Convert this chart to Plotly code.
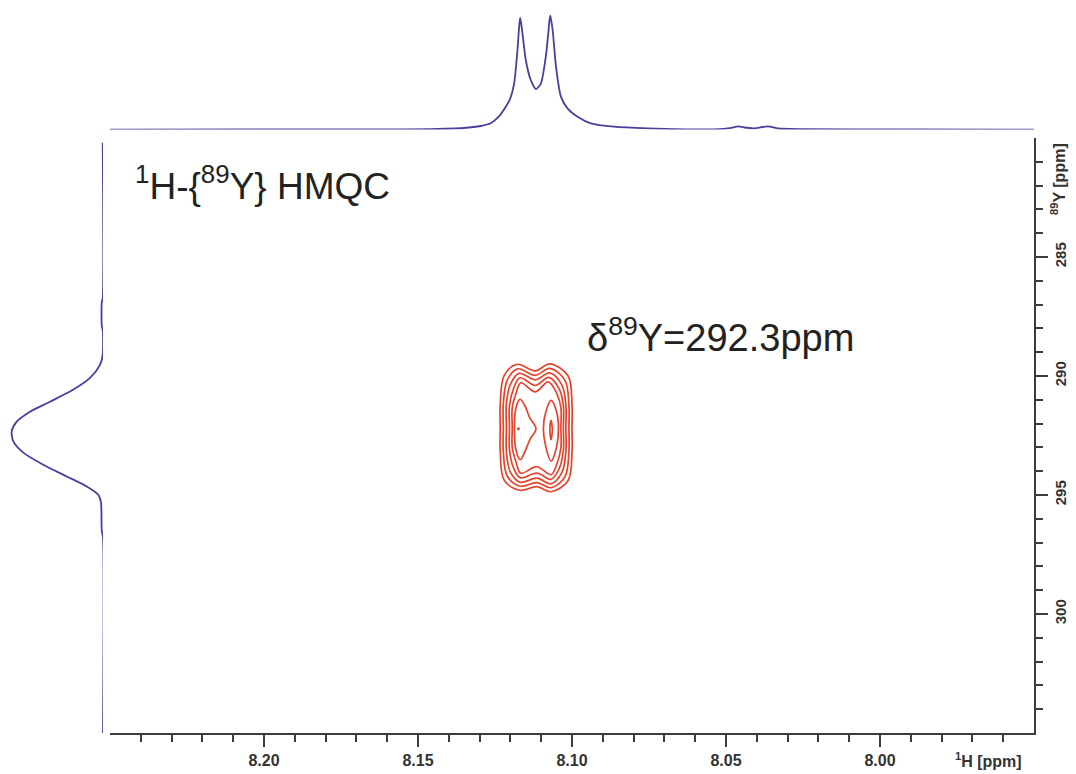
import plotly.graph_objects as go

# ---------------- data ----------------
# 1H projection (top trace): chemical shift (ppm) and intensity (a.u.)
proj_h_ppm = [8.2500, 8.1882, 8.1622, 8.1459, 8.1352, 8.1296, 8.1264, 8.1238, 8.1215, 8.1202,
              8.1188, 8.11770, 8.11721, 8.11685, 8.11649, 8.11607, 8.1150, 8.1134, 8.1117, 8.1101,
              8.1085, 8.10759, 8.10736, 8.10706, 8.10674, 8.10628, 8.1052, 8.1036, 8.1014, 8.0982,
              8.0939, 8.0864, 8.0754, 8.0538, 8.0483, 8.0461, 8.0441, 8.0408, 8.0364, 8.0331,
              8.0255, 7.9930, 7.9500]
proj_h_int = [0, 0.1, 0.2, 0.5, 1.6, 3.6, 6.3, 12.9, 22.9, 30,
              46, 79.6, 101, 112, 106, 96, 69.6, 49.6, 40.5, 46,
              73, 100, 108, 114, 109, 99.6, 63, 33, 21, 12.9,
              6.3, 2.9, 1.3, 0.3, 1.7, 3.3, 2.1, 1.3, 3.3, 1.1,
              0.4, 0.1, 0]

# 89Y projection (left trace)
proj_y_ppm = [280.2, 286.75, 286.9, 287.9, 288.05, 289.11, 289.53, 290.08, 290.58, 291.08,
              291.50, 291.92, 292.33, 292.75, 293.22, 293.73, 294.22, 294.64, 294.99, 295.32,
              296.46, 296.8, 305.05]
proj_y_int = [0.3, 0.3, 1.2, 1.2, 0.3, 0.3, 3.0, 13, 30, 53,
              73, 86.3, 91.3, 89.7, 79.7, 59.7, 36.3, 16.3, 4.7, 2.0,
              1.3, 0, 0]

# 2D cross-peak contour levels (1H ppm, 89Y ppm), outer to inner
c1_h = [8.1179, 8.1119, 8.1072, 8.1013, 8.1000, 8.1000, 8.1000, 8.1013, 8.1068, 8.1114, 8.1169, 8.1220, 8.1233, 8.1233, 8.1233, 8.1220]
c1_y = [289.509, 289.782, 289.488, 289.992, 291.209, 292.175, 293.182, 294.400, 294.862, 294.652, 294.799, 294.379, 293.182, 292.175, 291.167, 289.971]
c2_h = [8.1176, 8.1119, 8.1072, 8.1023, 8.1010, 8.1010, 8.1010, 8.1023, 8.1068, 8.1114, 8.1169, 8.1210, 8.1223, 8.1223, 8.1223, 8.1210]
c2_y = [289.698, 289.971, 289.677, 290.181, 291.209, 292.175, 293.182, 294.232, 294.694, 294.484, 294.631, 294.211, 293.182, 292.175, 291.167, 290.160]
c3_h = [8.1172, 8.1119, 8.1073, 8.1033, 8.1020, 8.1020, 8.1020, 8.1033, 8.1068, 8.1114, 8.1169, 8.1200, 8.1213, 8.1213, 8.1213, 8.1200]
c3_y = [289.887, 290.160, 289.866, 290.370, 291.209, 292.175, 293.182, 294.064, 294.526, 294.295, 294.463, 294.043, 293.182, 292.175, 291.167, 290.349]
c4_h = [8.1169, 8.1119, 8.1075, 8.1041, 8.1028, 8.1028, 8.1028, 8.1041, 8.1068, 8.1114, 8.1168, 8.1190, 8.1203, 8.1203, 8.1203, 8.1190]
c4_y = [290.076, 290.391, 290.055, 290.559, 291.251, 292.175, 293.098, 293.875, 294.337, 294.085, 294.274, 293.854, 293.098, 292.175, 291.251, 290.538]
c5_h = [8.1166, 8.1119, 8.1077, 8.1049, 8.1036, 8.1036, 8.1036, 8.1049, 8.1068, 8.1114, 8.1166, 8.1181, 8.1194, 8.1194, 8.1194, 8.1181]
c5_y = [290.286, 290.663, 290.244, 290.747, 291.335, 292.175, 293.014, 293.686, 294.148, 293.812, 294.085, 293.644, 293.014, 292.175, 291.335, 290.705]
lobe_l_h = [8.1169, 8.1153, 8.1137, 8.1117, 8.1137, 8.1153, 8.1168, 8.1182, 8.1187, 8.1182]
lobe_l_y = [290.978, 291.251, 291.755, 292.217, 292.679, 293.182, 293.518, 293.098, 292.217, 291.335]
lobe_r_h = [8.1068, 8.1050, 8.1044, 8.1050, 8.1068, 8.1085, 8.1093, 8.1085]
lobe_r_y = [291.020, 291.503, 292.217, 292.973, 293.581, 292.973, 292.217, 291.503]
core_r_h = [8.1068, 8.1064, 8.1068, 8.1072]
core_r_y = [291.860, 292.259, 292.679, 292.259]
core_l_h = [8.1174]
core_l_y = [292.217]

# axis ticks
x_major = [8.20, 8.15, 8.10, 8.05, 8.00]
x_labels = ["8.20", "8.15", "8.10", "8.05", "8.00"]
x_minor = [8.24, 8.23, 8.22, 8.21, 8.19, 8.18, 8.17, 8.16, 8.14, 8.13, 8.12, 8.11,
           8.09, 8.08, 8.07, 8.06, 8.04, 8.03, 8.02, 8.01, 7.99, 7.98, 7.97, 7.96]
y_major = [285, 290, 295, 300]
y_minor = [281, 282, 283, 284, 286, 287, 288, 289, 291, 292, 293, 294,
           296, 297, 298, 299, 301, 302, 303, 304]

# ---------------- figure ----------------
W, H = 1076, 774
ML, MR, MT, MB = 0, 42, 0, 41
PW, PH = W - ML - MR, H - MT - MB
x_dom = [110 / PW, 1.0]
main_top = (PH - 138) / PH
top_base = (PH - 129.6) / PH
left_w = 103 / PW

proj_col = "#4b3f9c"
cont_col = "#e4442c"
axis_col = "#3c3c3c"
font_fam = "Liberation Sans, Arial, sans-serif"

fig = go.Figure()

fig.add_trace(go.Scatter(x=proj_h_ppm, y=proj_h_int, xaxis="x2", yaxis="y2", mode="lines",
                         line=dict(color=proj_col, width=1.8, shape="spline", smoothing=0.6),
                         hoverinfo="skip"))
fig.add_trace(go.Scatter(x=proj_y_int, y=proj_y_ppm, xaxis="x3", yaxis="y3", mode="lines",
                         line=dict(color=proj_col, width=1.8, shape="spline", smoothing=0.7),
                         hoverinfo="skip"))

rings = [(c1_h, c1_y), (c2_h, c2_y), (c3_h, c3_y), (c4_h, c4_y), (c5_h, c5_y),
         (lobe_l_h, lobe_l_y), (lobe_r_h, lobe_r_y), (core_r_h, core_r_y)]
for rh, ry in rings:
    fig.add_trace(go.Scatter(x=rh + rh[:1], y=ry + ry[:1], mode="lines",
                             line=dict(color=cont_col, width=1.7, shape="spline", smoothing=1.0),
                             hoverinfo="skip"))
fig.add_trace(go.Scatter(x=core_l_h, y=core_l_y, mode="markers",
                         marker=dict(color=cont_col, size=3), hoverinfo="skip"))

tickfont_x = dict(family=font_fam, size=16, color="#333333", weight="bold")
tickfont_y = dict(family=font_fam, size=15, color="#333333", weight="bold")

fig.update_layout(
    width=W, height=H,
    margin=dict(l=ML, r=MR, t=MT, b=MB),
    paper_bgcolor="white", plot_bgcolor="white",
    showlegend=False,
    xaxis=dict(domain=x_dom, range=[8.25, 7.95], anchor="y",
               tickmode="array", tickvals=x_major, ticktext=x_labels,
               ticks="outside", ticklen=12, tickwidth=1.5, tickcolor=axis_col,
               minor=dict(tickmode="array", tickvals=x_minor, ticks="outside", ticklen=7,
                          tickwidth=1.5, tickcolor=axis_col, showgrid=False),
               showline=True, linecolor=axis_col, linewidth=1.5,
               showgrid=False, zeroline=False, tickfont=tickfont_x),
    yaxis=dict(domain=[0, main_top], range=[305, 280], anchor="x", side="right",
               tickmode="array", tickvals=y_major, ticktext=[str(v) for v in y_major],
               ticks="outside", ticklen=12, tickwidth=1.5, tickcolor=axis_col, tickangle=-90,
               minor=dict(tickmode="array", tickvals=y_minor, ticks="outside", ticklen=7,
                          tickwidth=1.5, tickcolor=axis_col, showgrid=False),
               showline=True, linecolor=axis_col, linewidth=1.5,
               showgrid=False, zeroline=False, tickfont=tickfont_y),
    xaxis2=dict(domain=x_dom, range=[8.25, 7.95], anchor="y2", visible=False),
    yaxis2=dict(domain=[top_base, 1.0], range=[0, 129.6], anchor="x2", visible=False),
    xaxis3=dict(domain=[0, left_w], range=[103, 0], anchor="y3", visible=False),
    yaxis3=dict(domain=[0, main_top], range=[305, 280], anchor="x3", visible=False),
    annotations=[
        dict(text="<sup>1</sup>H-{<sup>89</sup>Y} HMQC", xref="paper", yref="paper",
             x=133 / PW, y=1 - 183 / PH, xanchor="left", yanchor="middle", showarrow=False,
             font=dict(family=font_fam, size=37, color="#222222")),
        dict(text="δ<sup>89</sup>Y=292.3ppm", xref="paper", yref="paper",
             x=585 / PW, y=1 - 335 / PH, xanchor="left", yanchor="middle", showarrow=False,
             font=dict(family=font_fam, size=38, color="#222222")),
        dict(text="<sup>1</sup>H [ppm]", xref="paper", yref="paper",
             x=988 / PW, y=1 - 760 / PH, xanchor="center", yanchor="middle", showarrow=False,
             font=dict(family=font_fam, size=16, color="#333333", weight="bold")),
        dict(text="<sup>89</sup>Y [ppm]", xref="paper", yref="paper", textangle=-90,
             x=1058 / PW, y=1 - 179 / PH, xanchor="center", yanchor="middle", showarrow=False,
             font=dict(family=font_fam, size=16, color="#333333", weight="bold")),
    ],
)

fig.write_html("out.html", config={"displayModeBar": False})
